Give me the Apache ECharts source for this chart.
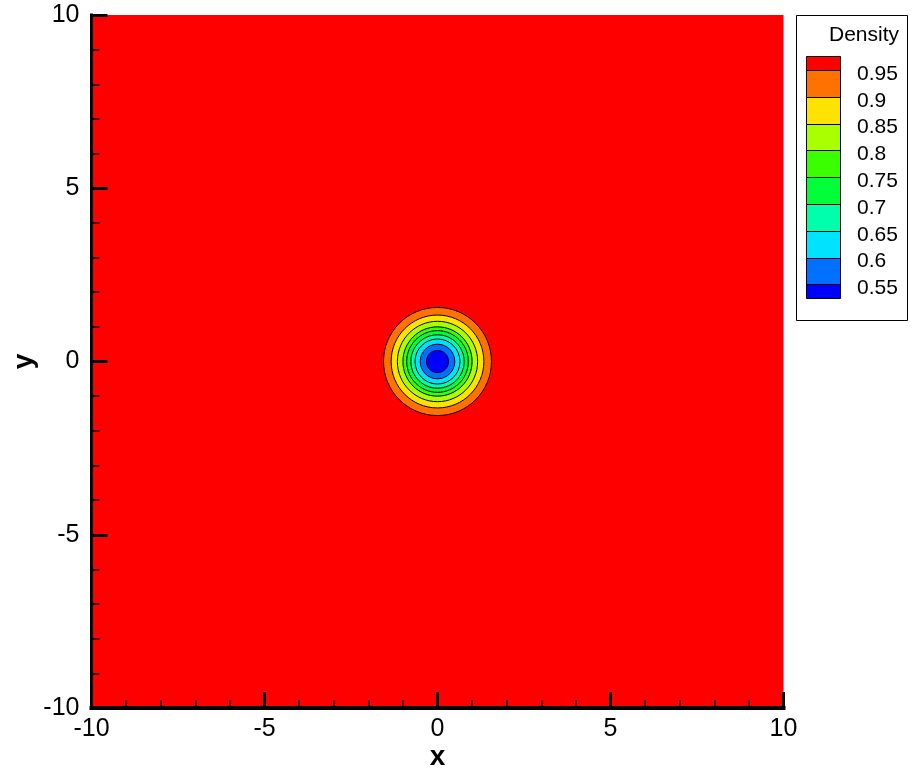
<!DOCTYPE html>
<html><head><meta charset="utf-8">
<script src="https://cdn.jsdelivr.net/npm/echarts@6/dist/echarts.min.js"></script>
<style>html,body{margin:0;padding:0;background:#fff}#c{width:916px;height:773px}</style>
</head><body><div id="c"></div>
<script>
// Contour levels of the density field (legend labels)
const contourLevels = [0.95, 0.9, 0.85, 0.8, 0.75, 0.7, 0.65, 0.6, 0.55];
// Radius (in x/y units) of each contour around the vortex centre
const contourRadii = [1.56, 1.34, 1.16, 1.00, 0.89, 0.77, 0.65, 0.50, 0.32];
// Fill colour of each band, from above the top level down to below the lowest level
const bandColors = ['#ff0000', '#ff7100', '#ffe300', '#aaff00', '#39ff00', '#00ff39', '#00ffaa', '#00e3ff', '#0071ff', '#0000ff'];
const vortexCenter = [0, 0];
const axisRange = [-10, 10];
const legendTitle = 'Density';

const FONT = "'Liberation Sans', Arial, Helvetica, sans-serif";
const chart = echarts.init(document.getElementById('c'), null, {renderer: 'canvas'});

const contourData = contourRadii.map((r, i) => [vortexCenter[0], vortexCenter[1], r, i + 1]);

// legend graphic
const lg = {x: 796.5, y: 15.5, w: 111, h: 305, bx: 806, bw: 34, b0: 70, step: 26.8, half: 13.8};
const graphics = [{
  type: 'rect', shape: {x: lg.x, y: lg.y, width: lg.w, height: lg.h},
  style: {fill: '#fff', stroke: '#000', lineWidth: 1}, z: 10
}, {
  type: 'text', x: 899, y: 35,
  style: {text: legendTitle, font: '21px ' + FONT, fill: '#000', align: 'right', verticalAlign: 'middle'}, z: 11
}];
const nb = contourLevels.length;
for (let i = 0; i <= nb; i++) {
  const top = i === 0 ? lg.b0 - lg.half : lg.b0 + (i - 1) * lg.step;
  const bot = i === nb ? lg.b0 + (nb - 1) * lg.step + lg.half : lg.b0 + i * lg.step;
  graphics.push({
    type: 'rect', shape: {x: lg.bx + 0.5, y: Math.round(top) + 0.5, width: lg.bw, height: Math.round(bot) - Math.round(top)},
    style: {fill: bandColors[i], stroke: '#000', lineWidth: 1}, z: 11
  });
}
contourLevels.forEach((lv, k) => {
  graphics.push({
    type: 'text', x: 857, y: lg.b0 + k * lg.step + 4,
    style: {text: String(lv), font: '21px ' + FONT, fill: '#000', align: 'left', verticalAlign: 'middle'}, z: 11
  });
});

const axisCommon = (lineW) => ({
  type: 'value', min: axisRange[0], max: axisRange[1], interval: 5,
  splitLine: {show: false},
  axisLine: {show: true, onZero: false, lineStyle: {color: '#000', width: lineW, cap: 'square'}},
  axisTick: {show: true, inside: true, length: 16, lineStyle: {color: '#000', width: 3}},
  minorTick: {show: true, splitNumber: 5, length: 8, lineStyle: {color: '#000', width: 1.5}},
  minorSplitLine: {show: false},
  axisLabel: {color: '#000', fontSize: 25, fontFamily: FONT},
  nameTextStyle: {color: '#000', fontSize: 28, fontWeight: 'bold', fontFamily: FONT},
  nameLocation: 'middle',
  nameMoveOverlap: false
});

const xAxis = Object.assign(axisCommon(4), {name: 'x', nameGap: 35});
xAxis.axisLabel.margin = 9;
const yAxis = Object.assign(axisCommon(3), {name: 'y', nameGap: 53, nameRotate: 90});
yAxis.axisLabel.margin = 12;

chart.setOption({
  animation: false,
  backgroundColor: '#fff',
  grid: {left: 91.5, top: 15, width: 692, height: 693, containLabel: false, outerBoundsMode: 'none',
         show: true, backgroundColor: bandColors[0], borderWidth: 0},
  xAxis: xAxis,
  yAxis: yAxis,
  series: [{
    type: 'custom',
    coordinateSystem: 'cartesian2d',
    encode: {x: 0, y: 1},
    data: contourData,
    renderItem: function (params, api) {
      const c = api.coord([api.value(0), api.value(1)]);
      const s = api.size([api.value(2), api.value(2)]);
      return {
        type: 'ellipse',
        shape: {cx: c[0], cy: c[1], rx: s[0], ry: s[1]},
        style: {fill: bandColors[api.value(3)], stroke: '#000', lineWidth: 1}
      };
    }
  }],
  graphic: graphics
});
</script></body></html>
